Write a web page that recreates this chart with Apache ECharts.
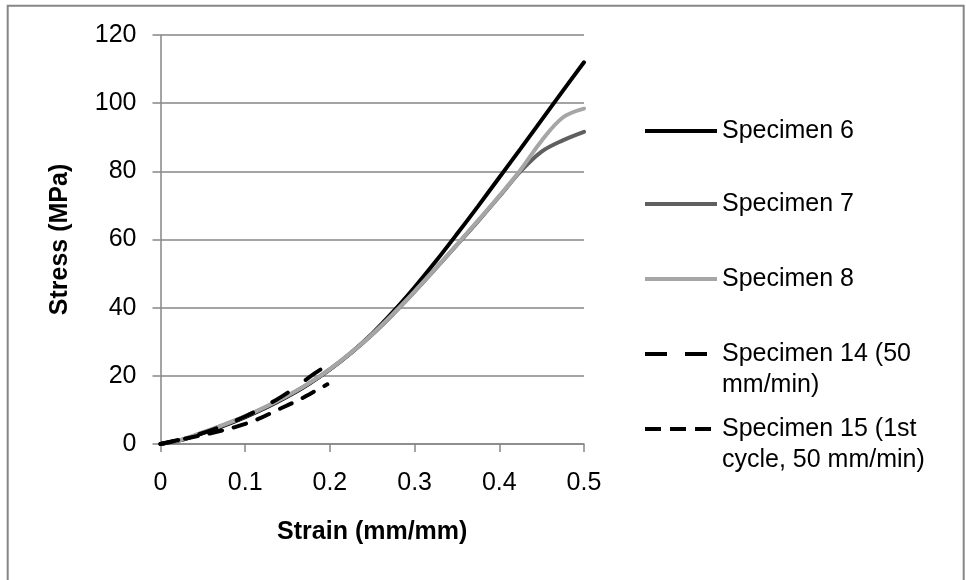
<!DOCTYPE html>
<html>
<head>
<meta charset="utf-8">
<title>Stress–strain curves</title>
<script src="https://cdn.jsdelivr.net/npm/echarts@6/dist/echarts.min.js"></script>
<style>
  html, body { margin: 0; padding: 0; background: #ffffff; }
  #chart { width: 966px; height: 580px; }
</style>
</head>
<body>
<div id="chart"></div>
<script>
// Shared strain grid for specimens 6, 7 and 8 (mm/mm)
const strainMain = [0, 0.025, 0.05, 0.075, 0.1, 0.125, 0.15, 0.175, 0.2, 0.225, 0.25,
                    0.275, 0.3, 0.325, 0.35, 0.375, 0.4, 0.425, 0.45, 0.475, 0.5];
// Stress (MPa)
const stress6 = [0, 1.2, 3.2, 5.4, 7.9, 10.7, 13.9, 17.6, 21.9, 26.8, 32.4,
                 38.9, 46.0, 53.6, 61.6, 69.8, 78.2, 86.6, 95.1, 103.6, 112.0];
const stress7 = [0, 1.2, 3.3, 5.6, 8.1, 10.9, 14.1, 17.7, 21.9, 26.7, 32.1,
                 38.2, 44.7, 51.5, 58.4, 65.4, 72.6, 80.0, 85.8, 89.1, 91.6];
const stress8 = [0, 1.3, 3.4, 5.7, 8.2, 11.0, 14.2, 17.8, 22.0, 26.8, 32.2,
                 38.3, 44.8, 51.6, 58.5, 65.6, 72.8, 80.4, 89.0, 95.8, 98.4];

// Specimen 14 (50 mm/min)
const strain14 = [0, 0.028, 0.055, 0.078, 0.101, 0.122, 0.143, 0.162, 0.182, 0.193];
const stress14 = [0, 1.6, 3.6, 5.8, 8.2, 10.9, 13.9, 17.1, 20.7, 22.5];

// Specimen 15 (1st cycle, 50 mm/min)
const strain15 = [0, 0.03, 0.058, 0.087, 0.114, 0.138, 0.163, 0.188, 0.197];
const stress15 = [0, 1.6, 3.1, 4.9, 7.2, 10.0, 12.9, 16.3, 17.5];

const seriesNames = ['Specimen 6', 'Specimen 7', 'Specimen 8',
                     'Specimen 14 (50 mm/min)', 'Specimen 15 (1st cycle, 50 mm/min)'];
const legendLabels = ['Specimen 6', 'Specimen 7', 'Specimen 8',
                      'Specimen 14 (50\nmm/min)', 'Specimen 15 (1st\ncycle, 50 mm/min)'];

const xTicks = [0, 0.1, 0.2, 0.3, 0.4, 0.5];
const yTicks = [0, 20, 40, 60, 80, 100, 120];

const FONT = '"Liberation Sans", Arial, sans-serif';
const FS = 25;
const LH = 31;

function pairs(xs, ys) {
  return xs.map((x, i) => [x, ys[i]]);
}

const lineStyles = [
  { color: '#000000', width: 4, type: 'solid', cap: 'round' },
  { color: '#5f5f5f', width: 4, type: 'solid', cap: 'round' },
  { color: '#a6a6a6', width: 4, type: 'solid', cap: 'round' },
  { color: '#000000', width: 4, type: [18, 22], cap: 'round' },
  { color: '#000000', width: 4, type: [13, 12], cap: 'round' }
];
const legendDash = ['solid', 'solid', 'solid', [22, 18], [16, 9]];
const seriesData = [
  pairs(strainMain, stress6),
  pairs(strainMain, stress7),
  pairs(strainMain, stress8),
  pairs(strain14, stress14),
  pairs(strain15, stress15)
];

// Legend row centres (px)
const legendRows = [131, 204, 279, 354, 429];

const legends = seriesNames.map((name, i) => {
  const twoLine = legendLabels[i].indexOf('\n') >= 0;
  // a blank leading line keeps the first text line level with the key line
  const label = twoLine ? ' \n' + legendLabels[i] : legendLabels[i];
  return {
    data: [name],
    left: 643,
    top: twoLine ? legendRows[i] - 1.5 * LH : legendRows[i] - LH / 2,
    padding: 0,
    itemWidth: 72,
    itemHeight: 4,
    selectedMode: false,
    formatter: () => label,
    itemStyle: { opacity: 0 },
    lineStyle: { width: 4, color: lineStyles[i].color, type: legendDash[i], cap: 'butt' },
    textStyle: {
      fontFamily: FONT,
      fontSize: FS,
      lineHeight: LH,
      color: '#000000'
    }
  };
});

const chart = echarts.init(document.getElementById('chart'), null, { renderer: 'canvas' });

chart.setOption({
  animation: false,
  backgroundColor: '#ffffff',
  grid: { left: 160.5, right: 382, top: 35, bottom: 136, containLabel: false },
  legend: legends,
  graphic: [{
    type: 'rect',
    silent: true,
    shape: { x: 7.7, y: 5.7, width: 956, height: 700 },
    style: { fill: 'none', stroke: '#868686', lineWidth: 2 }
  }],
  xAxis: {
    type: 'value',
    min: xTicks[0],
    max: xTicks[xTicks.length - 1],
    interval: xTicks[1] - xTicks[0],
    name: 'Strain (mm/mm)',
    nameLocation: 'middle',
    nameGap: 76,
    nameTextStyle: { fontFamily: FONT, fontSize: FS, fontWeight: 'bold', color: '#000000' },
    axisLine: { show: true, lineStyle: { color: '#868686', width: 1.5 } },
    axisTick: { show: true, length: 8, lineStyle: { color: '#868686', width: 1.5 } },
    axisLabel: { margin: 27, fontFamily: FONT, fontSize: FS, color: '#000000' },
    splitLine: { show: false }
  },
  yAxis: {
    type: 'value',
    min: yTicks[0],
    max: yTicks[yTicks.length - 1],
    interval: yTicks[1] - yTicks[0],
    name: 'Stress (MPa)',
    nameLocation: 'middle',
    nameGap: 88,
    nameTextStyle: { fontFamily: FONT, fontSize: FS, fontWeight: 'bold', color: '#000000' },
    axisLine: { show: true, lineStyle: { color: '#868686', width: 1.5 } },
    axisTick: { show: true, length: 8, lineStyle: { color: '#868686', width: 1.5 } },
    axisLabel: { margin: 24, fontFamily: FONT, fontSize: FS, color: '#000000' },
    splitLine: { show: true, lineStyle: { color: '#868686', width: 1.5 } }
  },
  series: seriesNames.map((name, i) => ({
    name: name,
    type: 'line',
    data: seriesData[i],
    smooth: 0.35,
    symbol: 'none',
    showSymbol: false,
    color: lineStyles[i].color,
    lineStyle: lineStyles[i],
    z: 2 + i
  }))
});
</script>
</body>
</html>
